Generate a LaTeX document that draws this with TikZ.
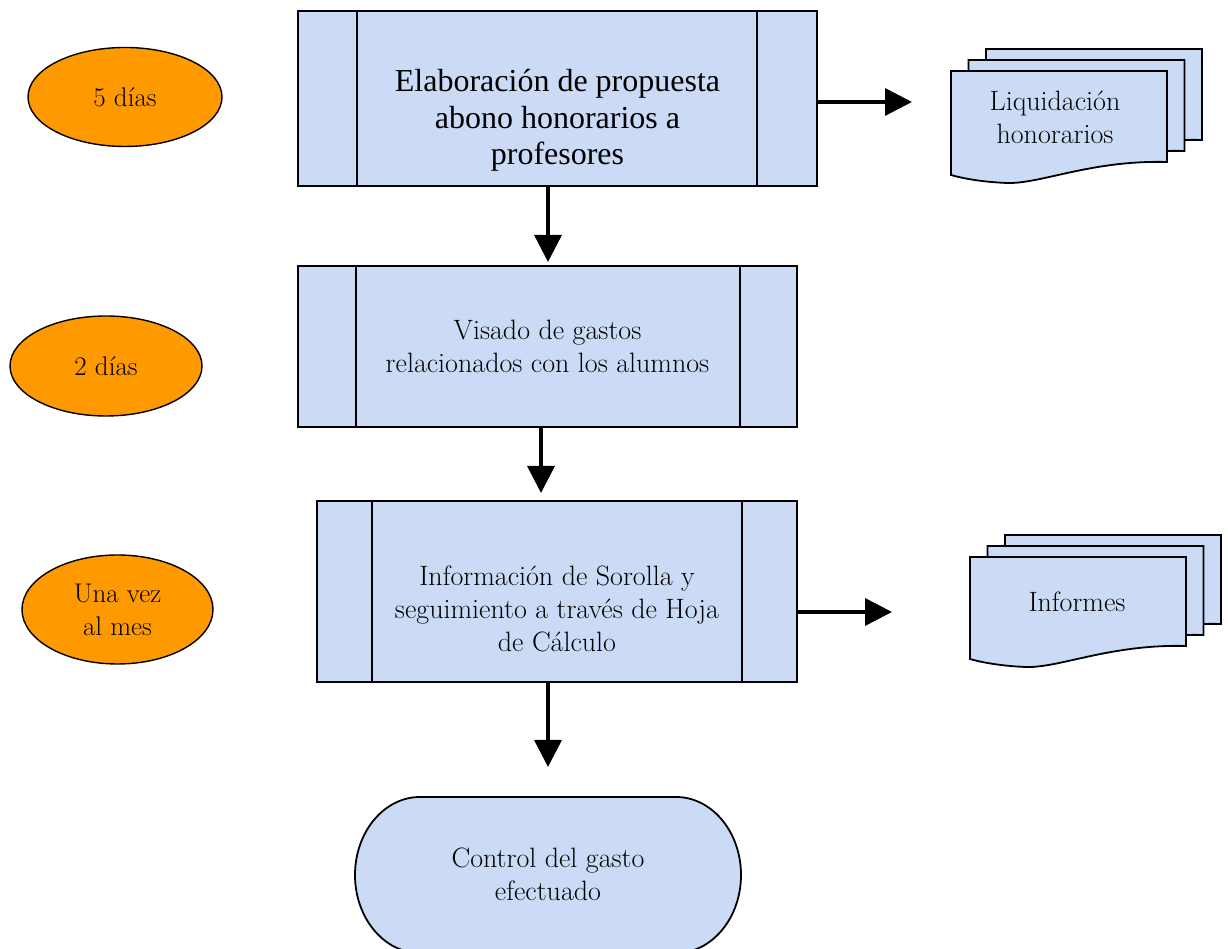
\documentclass[tikz,border=0pt]{standalone}
\usepackage{fontspec}
\usetikzlibrary{arrows.meta,shapes.geometric}
\newfontfamily\timesf{Liberation Serif}
\definecolor{paper}{RGB}{203,219,246}
\definecolor{dayorange}{RGB}{255,153,0}
\tikzset{
  proc/.style={draw=black, line width=1.8pt, fill=paper, inner sep=0pt},
  days/.style={ellipse, draw=black, line width=1.4pt, fill=dayorange, inner sep=0pt,
    align=center, font=\fontsize{27}{33}\selectfont},
  txt/.style={align=center, font=\fontsize{28}{33}\selectfont},
  flow/.style={line width=3.5pt, -{Triangle[length=27pt,width=27pt]}},
  sheet/.style={draw=black, line width=1.8pt, fill=paper},
  pics/docstack/.style={code={
    \foreach \dx/\dy in {35/22,17.5/11,0/0}{
      \path[sheet, shift={(\dx,\dy)}] (0,0) -- (216,0) -- (216,-#1)
        .. controls (140,-#1+2) and (90,-#1-22) .. (56,-#1-21)
        .. controls (30,-#1-20) and (10,-#1-16) .. (0,-#1-13) -- cycle;
    }
  }}
}
\begin{document}
\begin{tikzpicture}[x=1pt,y=1pt]
\useasboundingbox (0,0) rectangle (1228,949);

% time ellipses
\node[days, minimum width=194pt, minimum height=99pt] (d1) at (125,852) {5 días};
\node[days, minimum width=192pt, minimum height=100pt] (d2) at (106,583) {2 días};
\node[days, minimum width=191pt, minimum height=109pt] (d3) at (117.5,339.5) {Una vez\\al mes};

% predefined process boxes
\node[proc, minimum width=519pt, minimum height=175pt] (box1) at (557.5,850.5) {};
\draw[line width=1.8pt] ([xshift=60pt]box1.north west) -- ([xshift=60pt]box1.south west)
  ([xshift=-61pt]box1.north east) -- ([xshift=-61pt]box1.south east);
\node[align=center, font=\timesf\fontsize{32}{36.5}\selectfont] (t1) at ([yshift=-22pt]box1.center)
  {Elaboración de propuesta\\abono honorarios a\\profesores};

\node[proc, minimum width=499pt, minimum height=161pt] (box2) at (547.5,602.5) {};
\draw[line width=1.8pt] ([xshift=59pt]box2.north west) -- ([xshift=59pt]box2.south west)
  ([xshift=-58pt]box2.north east) -- ([xshift=-58pt]box2.south east);
\node[txt] (t2) at (box2.center) {Visado de gastos\\relacionados con los alumnos};

\node[proc, minimum width=480pt, minimum height=181pt] (box3) at (557,357.5) {};
\draw[line width=1.8pt] ([xshift=56pt]box3.north west) -- ([xshift=56pt]box3.south west)
  ([xshift=-56pt]box3.north east) -- ([xshift=-56pt]box3.south east);
\node[txt] (t3) at ([yshift=-17pt]box3.center)
  {Información de Sorolla y\\seguimiento a través de Hoja\\de Cálculo};

% terminator
\path[sheet] (420,152) -- (676,152)
  arc[start angle=90, end angle=-90, x radius=65, y radius=78] -- (420,-4)
  arc[start angle=270, end angle=90, x radius=65, y radius=78] -- cycle;
\node[txt] (t4) at (548,75) {Control del gasto\\efectuado};

% document stacks
\pic at (951,878) {docstack=91};
\node[txt] (doc1) at (1055,832) {Liquidación\\honorarios};
\pic at (970,392) {docstack=89};
\node[txt] (doc2) at (1077,347) {Informes};

% connectors
\coordinate (e1) at (912,847);
\coordinate (e2) at (548,687);
\coordinate (e3) at (541,456);
\coordinate (e4) at (892,337);
\coordinate (e5) at (548,182);
\draw[flow] (box1.east |- e1) -- (e1);
\draw[flow] (box1.south -| e2) -- (e2);
\draw[flow] (box2.south -| e3) -- (e3);
\draw[flow] (box3.east |- e4) -- (e4);
\draw[flow] (box3.south -| e5) -- (e5);
\end{tikzpicture}
\end{document}
